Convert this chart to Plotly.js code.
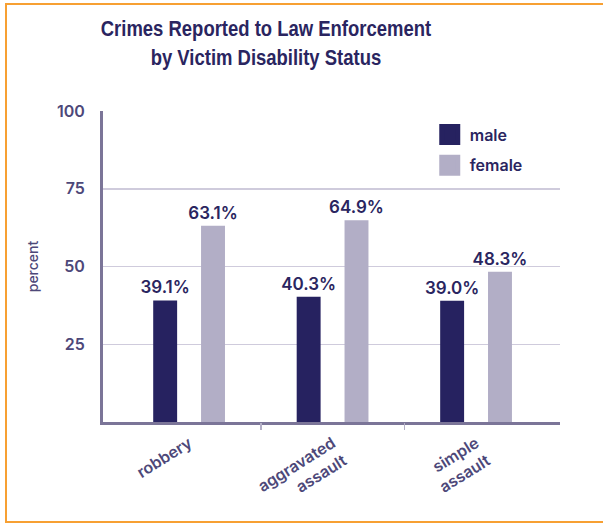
<!DOCTYPE html>
<html><head><meta charset="utf-8">
<script src="https://cdn.plot.ly/plotly-3.0.1.min.js"></script>
<style>
html,body{margin:0;padding:0;background:#fff;}
#chart{width:603px;height:523px;}
#frame{position:absolute;left:5px;top:3px;width:700px;height:520px;box-sizing:border-box;border:2px solid #f7a033;border-right:none;pointer-events:none;}
#chart .gtitle{transform-box:fill-box;transform-origin:center;transform:scaleX(0.84);}
</style>
</head><body>
<div id="chart"></div><div id="frame"></div>
<script>
const categories = ['robbery', 'aggravated<br>assault', 'simple<br>assault'];
const maleValues = [39.1, 40.3, 39.0];
const femaleValues = [63.1, 64.9, 48.3];
const seriesNames = ['male', 'female'];
const yTickValues = [25, 50, 75, 100];
const yTickText = ['25', '50', '75', '100'];

const MALE = '#262260', FEMALE = '#b2aec6', INK = '#2a2560', LABEL = '#4d4879';
const xr = [-0.6, 2.585];
const boundaryTicks = categories.slice(1).map((c, i) => i + 0.5);

const halo = '0 0 3px #fff, 0 0 3px #fff, 0 0 4px #fff, 0 0 4px #fff, 3px 0 2px #fff, -3px 0 2px #fff';
const textFont = {family: 'Inter, sans-serif', size: 17, color: INK, weight: 600, shadow: halo};

const traces = [
  {type: 'bar', name: seriesNames[0], x: categories, y: maleValues, marker: {color: MALE},
   texttemplate: '%{y:.1f}%', textposition: 'outside', constraintext: 'none', textfont: textFont, cliponaxis: false,
   showlegend: false, hoverinfo: 'skip'},
  {type: 'bar', name: seriesNames[1], x: categories, y: femaleValues, marker: {color: FEMALE},
   texttemplate: '%{y:.1f}%', textposition: 'outside', constraintext: 'none', textfont: textFont, cliponaxis: false,
   showlegend: false, hoverinfo: 'skip'},
  {type: 'scatter', mode: 'markers', name: seriesNames[0], x: [null], y: [null], xaxis: 'x2',
   legendgroup: 'm', marker: {symbol: 'square', size: 16, color: MALE, line: {color: MALE, width: 5}}},
  {type: 'scatter', mode: 'markers', name: seriesNames[1], x: [null], y: [null], xaxis: 'x2',
   legendgroup: 'f', marker: {symbol: 'square', size: 16, color: FEMALE, line: {color: FEMALE, width: 5}}}
];

const layout = {
  width: 603, height: 523,
  margin: {l: 103, r: 43, t: 111, b: 101},
  paper_bgcolor: '#fff', plot_bgcolor: '#fff',
  title: {
    text: 'Crimes Reported to Law Enforcement<br>by Victim Disability Status',
    font: {family: '"Liberation Sans", Arial, sans-serif', size: 22, color: INK, weight: 700},
    x: 0.441, xanchor: 'center', xref: 'container',
    y: 1 - 36.5 / 523, yanchor: 'middle', yref: 'container'
  },
  barmode: 'group', bargap: 0.333, bargroupgap: 0.5,
  showlegend: true,
  legend: {
    x: 0.715, xanchor: 'left', y: 0.979, yanchor: 'top',
    font: {family: 'Inter, sans-serif', size: 16, color: INK, weight: 600},
    bgcolor: 'rgba(0,0,0,0)', tracegroupgap: 7, traceorder: 'grouped'
  },
  xaxis: {
    type: 'category', range: xr, showgrid: false, zeroline: false,
    showline: true, linecolor: '#7b7598', linewidth: 3,
    ticks: '', tickangle: -32, ticklabelstandoff: 3,
    tickfont: {family: 'Inter, sans-serif', size: 16, color: LABEL, weight: 600}
  },
  xaxis2: {
    overlaying: 'x', anchor: 'y', range: xr, showgrid: false, zeroline: false,
    showline: false, showticklabels: false,
    tickmode: 'array', tickvals: boundaryTicks,
    ticks: 'outside', ticklen: 7, tickwidth: 1.5, tickcolor: '#b3afc6'
  },
  yaxis: {
    range: [0, 100], tickmode: 'array', tickvals: yTickValues, ticktext: yTickText,
    showgrid: true, gridcolor: '#cfcbdc', gridwidth: 1.5, zeroline: false,
    showline: true, linecolor: '#7b7598', linewidth: 3,
    ticks: '', ticklabelstandoff: 12,
    tickfont: {family: 'Inter, sans-serif', size: 16, color: LABEL, weight: 600},
    title: {text: 'percent', standoff: 16,
      font: {family: 'Inter, sans-serif', size: 14, color: LABEL, weight: 500}}
  }
};

Plotly.newPlot('chart', traces, layout, {displayModeBar: false, staticPlot: true});
</script>
</body></html>
